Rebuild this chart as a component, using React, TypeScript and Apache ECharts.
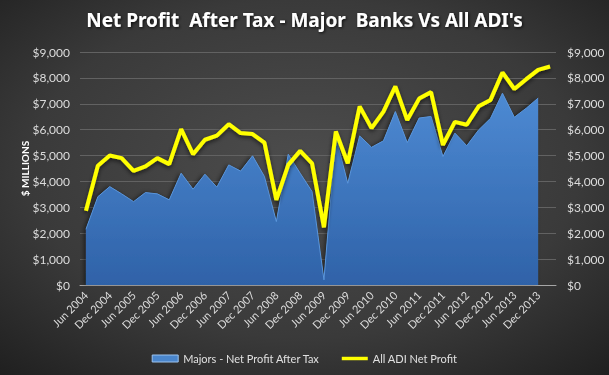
import React, { useEffect, useRef } from "react";
import * as echarts from "echarts";

const categories: string[] = [
  "Jun 2004", "Sep 2004", "Dec 2004", "Mar 2005", "Jun 2005", "Sep 2005", "Dec 2005", "Mar 2006",
  "Jun 2006", "Sep 2006", "Dec 2006", "Mar 2007", "Jun 2007", "Sep 2007", "Dec 2007", "Mar 2008",
  "Jun 2008", "Sep 2008", "Dec 2008", "Mar 2009", "Jun 2009", "Sep 2009", "Dec 2009", "Mar 2010",
  "Jun 2010", "Sep 2010", "Dec 2010", "Mar 2011", "Jun 2011", "Sep 2011", "Dec 2011", "Mar 2012",
  "Jun 2012", "Sep 2012", "Dec 2012", "Mar 2013", "Jun 2013", "Sep 2013", "Dec 2013", "Mar 2014",
];

const majorsProfit: (number | null)[] = [
  2150, 3410, 3800, 3520, 3220, 3570, 3520, 3290, 4320, 3700, 4280, 3780, 4640, 4400, 4990, 4190,
  2450, 5050, 4320, 3610, 200, 5730, 3930, 5760, 5320, 5570, 6700, 5500, 6450, 6510, 4960, 5870,
  5380, 5990, 6440, 7410, 6480, 6830, 7220, null,
];

const adiProfit: number[] = [
  2870, 4610, 5000, 4900, 4410, 4580, 4900, 4670, 6020, 5050, 5610, 5770, 6210, 5870, 5830, 5500,
  3290, 4640, 5180, 4700, 2230, 5930, 4700, 6900, 6060, 6700, 7670, 6370, 7200, 7450, 5410, 6300,
  6190, 6900, 7150, 8210, 7570, 7950, 8310, 8440,
];

const seriesNames = ["Majors - Net Profit After Tax", "All ADI Net Profit"];
const titleText = "Net Profit  After Tax - Major  Banks Vs All ADI's";
const yAxisName = "$ MILLIONS";

const FONT = "Lato, 'Noto Sans', sans-serif";
const fmt = (v: number) => "$" + v.toLocaleString("en-US");

export default function App() {
  const ref = useRef<HTMLDivElement>(null);
  useEffect(() => {
    if (!ref.current) return;
    const chart = echarts.init(ref.current, null, { renderer: "svg" });
    const labelStyle = { color: "#dcdcdc", fontFamily: FONT, fontSize: 12 };
    chart.setOption({
      animation: false,
      backgroundColor: {
        type: "radial",
        x: 0.5,
        y: 0.45,
        r: 0.75,
        colorStops: [
          { offset: 0, color: "#4d4d4d" },
          { offset: 0.6, color: "#3a3a3a" },
          { offset: 1, color: "#1f1f1f" },
        ],
      },
      title: {
        text: titleText,
        left: "center",
        top: 5,
        textStyle: {
          color: "#ffffff",
          fontFamily: "'Noto Sans', sans-serif",
          fontWeight: "bold",
          fontSize: 19,
          textShadowColor: "rgba(0,0,0,0.8)",
          textShadowBlur: 3,
          textShadowOffsetX: 1,
          textShadowOffsetY: 1,
        },
      },
      grid: { left: 80, right: 53, top: 52, bottom: 90 },
      legend: {
        top: 348,
        left: "center",
        itemGap: 22,
        itemWidth: 26,
        itemHeight: 7,
        textStyle: { color: "#e0e0e0", fontFamily: FONT, fontSize: 11 },
        data: [
          {
            name: seriesNames[0],
            icon: "rect",
            itemStyle: { color: "#4a86cc", borderColor: "#9cc3ee", borderWidth: 1 },
          },
          {
            name: seriesNames[1],
            icon: "path://M0,0H30V4H0Z",
            itemStyle: { color: "#ffff00" },
          },
        ],
      },
      xAxis: {
        type: "category",
        data: categories,
        boundaryGap: true,
        axisLine: { lineStyle: { color: "#a6a6a6" } },
        axisTick: { interval: 0, length: 5, lineStyle: { color: "#a6a6a6" } },
        axisLabel: { ...labelStyle, fontSize: 11, rotate: 45, interval: 1, margin: 8 },
        splitLine: { show: false },
      },
      yAxis: [
        {
          type: "value",
          min: 0,
          max: 9000,
          interval: 1000,
          name: yAxisName,
          nameLocation: "middle",
          nameGap: 50,
          nameRotate: 90,
          nameMoveOverlap: false,
          nameTextStyle: { color: "#ffffff", fontFamily: FONT, fontWeight: "bold", fontSize: 10 },
          axisLine: { show: false },
          axisTick: { show: false },
          axisLabel: { ...labelStyle, formatter: fmt, margin: 10 },
          splitLine: { lineStyle: { color: "#626262", width: 1 } },
        },
        {
          type: "value",
          min: 0,
          max: 9000,
          interval: 1000,
          position: "right",
          axisLine: { show: false },
          axisTick: { show: false },
          axisLabel: { ...labelStyle, formatter: fmt, margin: 11 },
          splitLine: { show: false },
        },
      ],
      series: [
        {
          name: seriesNames[0],
          type: "line",
          data: majorsProfit,
          symbol: "none",
          showSymbol: false,
          connectNulls: false,
          lineStyle: { width: 1, color: "#5a96dc" },
          itemStyle: { color: "#4a86cc" },
          areaStyle: {
            opacity: 1,
            color: new echarts.graphic.LinearGradient(0, 0, 0, 1, [
              { offset: 0, color: "#4d8ad3" },
              { offset: 1, color: "#2f62a8" },
            ]),
            shadowColor: "rgba(0,0,0,0.5)",
            shadowBlur: 4,
            shadowOffsetX: -2,
          },
          z: 2,
        },
        {
          name: seriesNames[1],
          type: "line",
          data: adiProfit,
          symbol: "none",
          showSymbol: false,
          lineStyle: {
            width: 4,
            color: "#ffff00",
            shadowColor: "rgba(0,0,0,0.6)",
            shadowBlur: 4,
            shadowOffsetY: 2,
          },
          itemStyle: { color: "#ffff00" },
          z: 3,
        },
      ],
    });
    return () => chart.dispose();
  }, []);
  return (
    <div
      ref={ref}
      style={{ position: "fixed", left: 0, top: 0, width: 609, height: 375 }}
    />
  );
}
